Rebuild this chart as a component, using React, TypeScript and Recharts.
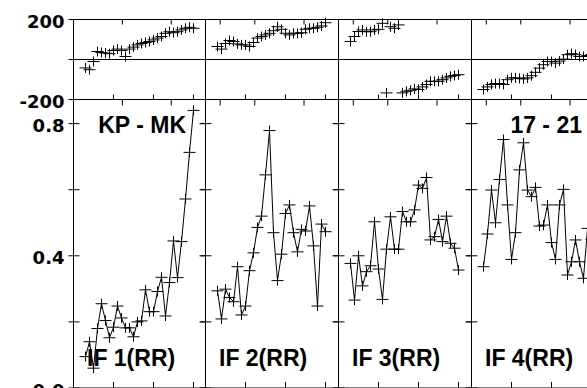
import React from "react";
import { LineChart, Line, XAxis, YAxis, ReferenceLine } from "recharts";

// sample index along x (same for every panel)
const sampleIdx = [3, 4, 5, 6, 7, 8, 9, 10, 11, 12, 13, 14, 15, 16, 17, 18, 19, 20, 21, 22, 23, 24, 25, 26, 27, 28, 29, 30];
const xTicks = [10, 20, 30];

// top row: phase (deg)
const phaseTicks = [-200, 0, 200];
const phaseLabels = [-200, 200];
const phase1 = [-42, -51, -10, 40, 35, 32, 29, 45, 52, 45, 15, 52, 62, 73, 80, 85, 90, 98, 107, 115, 131, 139, 134, 139, 148, 156, 161, 156];
const phase2 = [65, 52, 80, 95, 90, 78, 73, 73, 65, 85, 107, 115, 123, 131, 144, 164, 151, 131, 123, 131, 131, 134, 151, 156, 156, 161, 168, 184];
const phase3 = [90, 115, 140, 148, 139, 139, 148, 151, 181, -167, 164, 156, 173, -167, -159, -154, -147, -150, -137, -125, -109, -109, -109, -101, -92, -84, -80, -76];
const phase4 = [-150, -137, -125, -120, -120, -125, -101, -92, -92, -95, -97, -92, -81, -64, -43, -26, -10, -10, -18, -8, 2, 24, 29, 24, 15, 15, 20, 25];

// bottom row: coherence
const cohTicks = [0, 0.2, 0.4, 0.6, 0.8];
const cohLabels = [0, 0.4, 0.8];
const coh1 = [0.095, 0.14, 0.06, 0.18, 0.255, 0.204, 0.152, 0.184, 0.248, 0.212, 0.182, 0.182, 0.155, 0.2, 0.203, 0.297, 0.231, 0.231, 0.292, 0.335, 0.218, 0.319, 0.445, 0.334, 0.443, 0.572, 0.713, 0.84];
const coh2 = [0.294, 0.209, 0.299, 0.274, 0.261, 0.367, 0.221, 0.248, 0.355, 0.409, 0.486, 0.52, 0.645, 0.779, 0.47, 0.325, 0.405, 0.528, 0.554, 0.47, 0.412, 0.48, 0.475, 0.551, 0.43, 0.248, 0.496, 0.473];
const coh3 = [0.377, 0.266, 0.4, 0.309, 0.352, 0.37, 0.503, 0.36, 0.268, 0.42, 0.518, 0.42, 0.42, 0.534, 0.503, 0.503, 0.539, 0.614, 0.604, 0.637, 0.448, 0.458, 0.51, 0.443, 0.52, 0.438, 0.423, 0.357];
const coh4 = [0.367, 0.466, 0.599, 0.5, 0.631, 0.752, 0.554, 0.389, 0.47, 0.66, 0.742, 0.599, 0.579, 0.607, 0.49, 0.493, 0.554, 0.44, 0.389, 0.554, 0.601, 0.342, 0.382, 0.448, 0.382, 0.332, 0.483, 0.45];

const phaseSeries = [phase1, phase2, phase3, phase4];
const cohSeries = [coh1, coh2, coh3, coh4];
const ifLabels = ["IF 1(RR)", "IF 2(RR)", "IF 3(RR)", "IF 4(RR)"];

// layout
const colLefts = [73, 205, 338, 471];
const colWidths = [132, 133, 133, 133];
const PX_PER_X = 4;
const M = 12; // padding around each plot
const AX = 10; // axis box size

const tickFont = { fontFamily: "'DejaVu Sans', sans-serif", fontWeight: 700, fontSize: 18 };
const labelFont = { fontFamily: "'Liberation Sans', Arial, sans-serif", fontWeight: 700, fontSize: 23 };

function LeftTick(props: any) {
  const { x, y, payload, labels, len, fmt } = props;
  const show = labels && labels.includes(payload.value);
  return (
    <g>
      <line x1={x - 5} x2={x + len} y1={y} y2={y} stroke="#000" />
      {show ? (
        <text x={x - 9} y={y + 8.5} textAnchor="end" fill="#000" {...tickFont}>
          {fmt(payload.value)}
        </text>
      ) : null}
    </g>
  );
}

function RightTick(props: any) {
  const { x, y, len } = props;
  return <line x1={x - len} x2={x} y1={y} y2={y} stroke="#000" />;
}

function TopTick(props: any) {
  const { x, y, len } = props;
  return <line x1={x} x2={x} y1={y} y2={y + len} stroke="#000" />;
}

function BottomTick(props: any) {
  const { x, y, len } = props;
  return <line x1={x} x2={x} y1={y - len} y2={y} stroke="#000" />;
}

function plusDot(props: any) {
  const { cx, cy, index } = props;
  if (cx == null || cy == null) return <g key={index} />;
  return (
    <path
      key={index}
      d={`M${cx - 6},${cy}H${cx + 6}M${cx},${cy - 5}V${cy + 5}`}
      stroke="#000"
      strokeWidth={1}
      fill="none"
    />
  );
}

type PanelProps = {
  values: number[];
  col: number;
  top: number;
  height: number;
  domain: [number, number];
  ticks: number[];
  labels: number[] | null;
  fmt: (v: number) => string;
  connect: boolean;
  tickLen: number;
  zeroLine?: boolean;
};

function Panel({ values, col, top, height, domain, ticks, labels, fmt, connect, tickLen, zeroLine }: PanelProps) {
  const w = colWidths[col];
  const data = sampleIdx.map((x, i) => ({ x, v: values[i] }));
  const xDomain: [number, number] = [0, w / PX_PER_X];
  return (
    <div style={{ position: "absolute", left: colLefts[col] - M, top: top - M }}>
      <LineChart
        width={w + 2 * M}
        height={height + 2 * M}
        data={data}
        margin={{
          top: M - AX + 0.5,
          left: M - AX + 0.5,
          right: M - AX - 0.5,
          bottom: M - AX - 0.5,
        }}
      >
        <XAxis
          xAxisId="b"
          type="number"
          dataKey="x"
          domain={xDomain}
          ticks={xTicks}
          interval={0}
          height={AX}
          tickSize={0}
          tickMargin={0}
          tickLine={false}
          axisLine={{ stroke: "#000" }}
          tick={<BottomTick len={tickLen} />}
        />
        <XAxis
          xAxisId="t"
          orientation="top"
          type="number"
          domain={xDomain}
          allowDataOverflow
          ticks={xTicks}
          interval={0}
          height={AX}
          tickSize={0}
          tickMargin={0}
          tickLine={false}
          axisLine={{ stroke: "#000" }}
          tick={<TopTick len={tickLen} />}
        />
        <YAxis
          yAxisId="l"
          type="number"
          domain={domain}
          ticks={ticks}
          interval={0}
          width={AX}
          tickSize={0}
          tickMargin={0}
          tickLine={false}
          axisLine={{ stroke: "#000" }}
          tick={<LeftTick len={tickLen} labels={labels} fmt={fmt} />}
        />
        <YAxis
          yAxisId="r"
          orientation="right"
          type="number"
          domain={domain}
          allowDataOverflow
          ticks={ticks}
          interval={0}
          width={AX}
          tickSize={0}
          tickMargin={0}
          tickLine={false}
          axisLine={{ stroke: "#000" }}
          tick={<RightTick len={tickLen} />}
        />
        {zeroLine ? <ReferenceLine xAxisId="b" yAxisId="l" y={0} stroke="#000" strokeWidth={1} /> : null}
        <Line
          xAxisId="b"
          yAxisId="l"
          type="linear"
          dataKey="v"
          stroke={connect ? "#000" : "none"}
          strokeWidth={1}
          dot={plusDot}
          activeDot={false}
          isAnimationActive={false}
        />
      </LineChart>
    </div>
  );
}

export default function App() {
  return (
    <div
      style={{
        position: "absolute",
        left: 0,
        top: 0,
        width: 587,
        height: 388,
        overflow: "hidden",
        background: "#fff",
      }}
    >
      <style>{`.recharts-surface{overflow:visible}`}</style>
      {phaseSeries.map((s, c) => (
        <Panel
          key={`p${c}`}
          values={s}
          col={c}
          top={19}
          height={80}
          domain={[-200, 200]}
          ticks={phaseTicks}
          labels={c === 0 ? phaseLabels : null}
          fmt={(v) => String(v)}
          connect={false}
          tickLen={5}
          zeroLine
        />
      ))}
      {cohSeries.map((s, c) => (
        <Panel
          key={`c${c}`}
          values={s}
          col={c}
          top={99}
          height={288.5}
          domain={[0, 0.873]}
          ticks={cohTicks}
          labels={c === 0 ? cohLabels : null}
          fmt={(v) => v.toFixed(1)}
          connect
          tickLen={6}
        />
      ))}
      <svg
        width={587}
        height={388}
        style={{ position: "absolute", left: 0, top: 0, pointerEvents: "none" }}
      >
        <text x={colLefts[0] + 113} y={133} textAnchor="end" fill="#000" {...labelFont}>
          KP - MK
        </text>
        <text x={colLefts[3] + 111} y={133} textAnchor="end" fill="#000" {...labelFont}>
          17 - 21
        </text>
        {ifLabels.map((t, c) => (
          <text key={t} x={colLefts[c] + 14} y={366} fill="#000" {...labelFont}>
            {t}
          </text>
        ))}
      </svg>
    </div>
  );
}
